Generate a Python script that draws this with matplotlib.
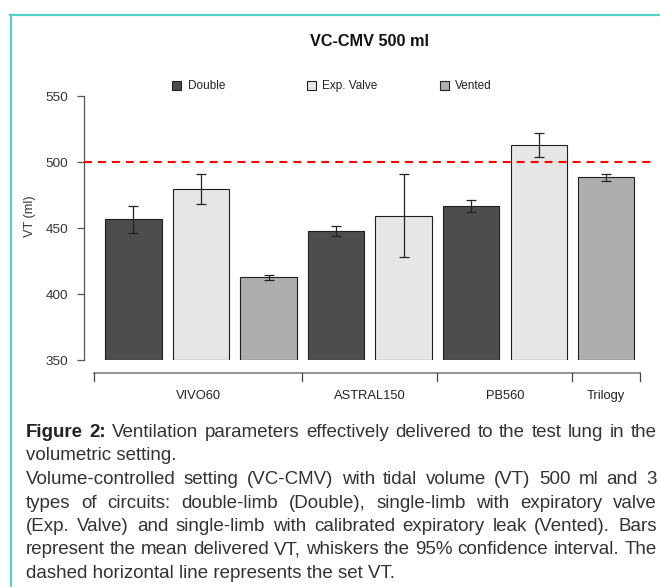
import numpy as np
import matplotlib
matplotlib.use("Agg")
import matplotlib.pyplot as plt
from matplotlib.patches import Rectangle
from matplotlib.lines import Line2D
import matplotlib.transforms as mtransforms

plt.rcParams['font.family'] = ['Liberation Sans', 'DejaVu Sans']

# ---------------- data ----------------
title = "VC-CMV 500 ml"
groups = ["VIVO60", "ASTRAL150", "PB560", "Trilogy"]
group_sizes = [3, 2, 2, 1]
circuits = ["Double", "Exp. Valve", "Vented", "Double", "Exp. Valve",
            "Double", "Exp. Valve", "Vented"]
means = [456.8, 480.0, 412.6, 448.0, 459.6, 466.7, 513.1, 488.6]
lower = [446.2, 468.4, 410.6, 443.9, 428.3, 462.1, 504.0, 485.8]
upper = [466.7, 491.4, 414.4, 451.5, 490.9, 471.2, 522.0, 490.9]
set_vt = 500
yticks = [350, 400, 450, 500, 550]
legend_labels = ["Double", "Exp. Valve", "Vented"]
ylabel = "VT (ml)"

caption_lines = [
    ("Figure 2: Ventilation parameters effectively delivered to the test lung in the", True),
    ("volumetric setting.", False),
    ("Volume-controlled setting (VC-CMV) with tidal volume (VT) 500 ml and 3", True),
    ("types of circuits: double-limb (Double), single-limb with expiratory valve", True),
    ("(Exp. Valve) and single-limb with calibrated expiratory leak (Vented). Bars", True),
    ("represent the mean delivered VT, whiskers the 95% confidence interval. The", True),
    ("dashed horizontal line represents the set VT.", False),
]

# ---------------- styles ----------------
W, H = 660, 587
colors_map = {"Double": "#4D4D4D", "Exp. Valve": "#E6E6E6", "Vented": "#AEAEAE"}

def fx(x):
    return x / W

def fy(y):
    return 1 - y / H

fig = plt.figure(figsize=(W / 100, H / 100), dpi=100)

# teal frame
fig.add_artist(Line2D([fx(10), fx(660)], [fy(15), fy(15)], color="#52d2c2", lw=1.6))
fig.add_artist(Line2D([fx(11), fx(11)], [fy(15), fy(587)], color="#52d2c2", lw=1.6))

px_unit = 56.28
x0_px = 94.04
ax_left, ax_right = 84, 656
ax_top, ax_bot = 96.4, 360
ax = fig.add_axes([fx(ax_left), fy(ax_bot), (ax_right - ax_left) / W, (ax_bot - ax_top) / H])
ax.set_xlim((ax_left - x0_px) / px_unit, (ax_right - x0_px) / px_unit)
ax.set_ylim(350, 550)
ax.patch.set_alpha(0)

n = len(means)
lefts = np.array([0.2 + 1.2 * i for i in range(n)])
centers = lefts + 0.5
m = np.array(means)
lo = np.array(lower)
hi = np.array(upper)
bar_colors = [colors_map[c] for c in circuits]

ax.bar(centers, m - 350, bottom=350, width=1.0, color=bar_colors,
       edgecolor="#1e1e1e", linewidth=0.8, zorder=2)
ax.errorbar(centers, m, yerr=[m - lo, hi - m], fmt="none", ecolor="#222222",
            elinewidth=0.9, capsize=3.6, capthick=0.9, zorder=3)
ax.axhline(set_vt, color="#ff0000", lw=1.5, linestyle=(0, (3.8, 2.9)), zorder=4)

for s in ["top", "right", "bottom"]:
    ax.spines[s].set_visible(False)
ax.spines["left"].set_bounds(350, 550)
ax.spines["left"].set_color("#555555")
ax.spines["left"].set_linewidth(0.9)
ax.set_xticks([])
ax.set_yticks(yticks)
ax.tick_params(axis="y", length=5, width=0.9, color="#555555", labelcolor="#333333",
               labelsize=9.7, pad=6.5)

fig.text(fx(30), fy(216), ylabel, rotation=90, ha="center", va="center",
         fontsize=9.2, color="#333333")

# group axis below bars
trans = mtransforms.blended_transform_factory(ax.transData, fig.transFigure)
starts = []
ends = []
idx = 0
for gs in group_sizes:
    starts.append(idx)
    ends.append(idx + gs - 1)
    idx += gs
bounds = [lefts[0] - 0.2]
for g in range(len(groups) - 1):
    bounds.append(((lefts[ends[g]] + 1.0) + lefts[starts[g + 1]]) / 2)
bounds.append(lefts[-1] + 1.0 + 0.1)

gy, gy2, gly = 372.7, 381, 396
fig.add_artist(Line2D([bounds[0], bounds[-1]], [fy(gy), fy(gy)], transform=trans,
                      color="#808080", lw=1.2))
for b in bounds:
    fig.add_artist(Line2D([b, b], [fy(gy), fy(gy2)], transform=trans,
                          color="#444444", lw=0.9))
for g, name in enumerate(groups):
    fig.text((bounds[g] + bounds[g + 1]) / 2, fy(gly), name, transform=trans,
             ha="center", va="center", fontsize=9.3, color="#222222")

# title
fig.text(fx(370), fy(41.7), title, ha="center", va="center", fontsize=11.7,
         weight="bold", color="#111111")

# legend
leg_x = [172, 307, 439.5]
for lx, lab in zip(leg_x, legend_labels):
    fig.add_artist(Rectangle((fx(lx), fy(90.2)), 9 / W, 9 / H, transform=fig.transFigure,
                             facecolor=colors_map[lab], edgecolor="#222222", lw=0.8))
    fig.text(fx(lx + 15.5), fy(85.7), lab, ha="left", va="center", fontsize=8.5,
             color="#222222")

# caption (justified)
fs_cap = 13.5
cap_color = "#333333"
x_start, x_end = 26, 656.5
baselines = [437, 460.5, 484, 507.5, 531, 554.5, 578]
renderer = fig.canvas.get_renderer()
for li, ((line, just), yb) in enumerate(zip(caption_lines, baselines)):
    words = line.split(" ")
    if not just:
        fig.text(fx(x_start), fy(yb), line, ha="left", va="baseline",
                 fontsize=fs_cap, color=cap_color)
        continue
    txts = []
    for wi, w in enumerate(words):
        bold = (li == 0 and wi < 2)
        t = fig.text(0, 0, w, ha="left", va="baseline", fontsize=fs_cap,
                     color="#222222" if bold else cap_color,
                     weight="bold" if bold else "normal")
        txts.append(t)
    widths = [t.get_window_extent(renderer).width for t in txts]
    gap = (x_end - x_start - sum(widths)) / (len(words) - 1)
    x = x_start
    for t, wd in zip(txts, widths):
        t.set_position((fx(x), fy(yb)))
        x += wd + gap

fig.savefig("out.png", dpi=100)
